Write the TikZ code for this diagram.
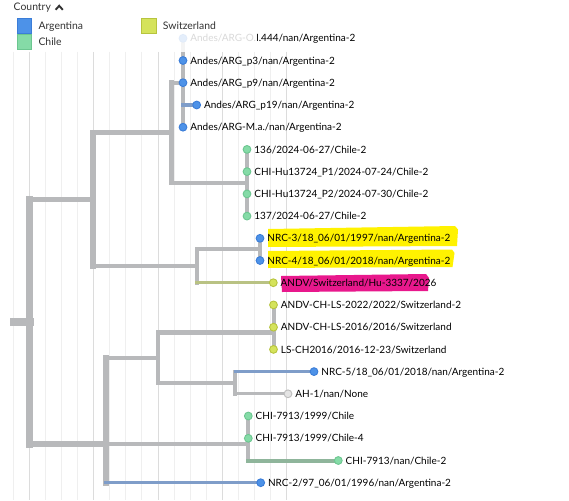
\documentclass[tikz,border=0pt]{standalone}
\usepackage{fontspec}
\setmainfont{Lato}
\usetikzlibrary{calc}
\definecolor{brgray}{HTML}{B8B9BB}
\definecolor{brblue}{HTML}{7F9DC9}
\definecolor{brgreen}{HTML}{8FB59B}
\definecolor{bryel}{HTML}{B9C283}
\definecolor{argfill}{HTML}{4D92E8}
\definecolor{argline}{HTML}{3B7DD8}
\definecolor{chifill}{HTML}{85DBA7}
\definecolor{chiline}{HTML}{6CC690}
\definecolor{swifill}{HTML}{D5E35B}
\definecolor{swiline}{HTML}{B7C43E}
\definecolor{nonefill}{HTML}{E4E4E4}
\definecolor{noneline}{HTML}{BDBDBD}
\definecolor{gridminor}{HTML}{EFEFEF}
\definecolor{gridmajor}{HTML}{DCDCDC}
\definecolor{hlyellow}{HTML}{FFF200}
\definecolor{hlpink}{HTML}{E8188C}
\definecolor{legtext}{HTML}{333333}
\tikzset{
  br/.style={draw=brgray, line cap=rect},
  tipdot/.style={circle, inner sep=0pt, minimum size=7.8pt, line width=0.9pt},
  arg/.style={tipdot, fill=argfill, draw=argline},
  chi/.style={tipdot, fill=chifill, draw=chiline},
  swi/.style={tipdot, fill=swifill, draw=swiline},
  nonec/.style={tipdot, fill=nonefill, draw=noneline},
  lbl/.style={anchor=base west, inner sep=0pt, font=\fontsize{10}{12}\selectfont, text=black},
  legtxt/.style={anchor=base west, inner sep=0pt, font=\fontsize{10.4}{12}\selectfont, text=legtext},
  legbox/.style={rectangle, inner sep=0pt, minimum size=14.5pt, line width=0.9pt},
}
\begin{document}
\begin{tikzpicture}[x=1pt,y=-1pt]
\useasboundingbox (0,0) rectangle (569,500);
\fill[white] (0,0) rectangle (569,500);
% grid
\foreach \k in {0,...,17} {
  \pgfmathsetmacro\gx{13.2+16.09*\k}
  \draw[gridminor, line width=1pt] (\gx,52) -- (\gx,500);
}
\foreach \k in {1,5,9,13,17} {
  \pgfmathsetmacro\gx{13.2+16.09*\k}
  \draw[gridmajor, line width=1pt] (\gx,52) -- (\gx,500);
}
% internal nodes
\coordinate (s0) at (14,321.5);
\coordinate (r)  at (29.5,321.5);
\coordinate (nA) at (93,199.3);
\coordinate (nB) at (171,132.5);
\coordinate (nC) at (183,82.7);
\coordinate (nD) at (247,182.8);
\coordinate (nE) at (197,266);
\coordinate (nF) at (260,249.4);
\coordinate (nG) at (106,443.8);
\coordinate (nH) at (158,358);
\coordinate (nS) at (273.5,332.7);
\coordinate (nI) at (235,382.7);
\coordinate (nJ) at (248.3,443.8);
% tips
\coordinate (t1) at (183,38.3);
\coordinate (t2) at (183,60.5);
\coordinate (t3) at (183,82.7);
\coordinate (t4) at (196.7,105);
\coordinate (t5) at (183,127.2);
\coordinate (t6) at (247,149.4);
\coordinate (t7) at (247,171.6);
\coordinate (t8) at (247,193.9);
\coordinate (t9) at (247,216.1);
\coordinate (t10) at (260,238.3);
\coordinate (t11) at (260,260.5);
\coordinate (t12) at (273.3,282.7);
\coordinate (t13) at (273.5,304.9);
\coordinate (t14) at (273.5,327.2);
\coordinate (t15) at (273.5,349.4);
\coordinate (t16) at (314,371.6);
\coordinate (t17) at (288,393.8);
\coordinate (t18) at (248.3,416);
\coordinate (t19) at (248.3,438.3);
\coordinate (t20) at (338.3,460.5);
\coordinate (t21) at (260.7,482.7);
% vertical segments
\draw[br, line width=7.5pt] (r |- nA) -- (r |- nG);
\draw[br, line width=6pt] (nA |- nB) -- (nA |- nE);
\draw[br, line width=5pt] (nB |- nC) -- (nB |- nD);
\draw[br, line width=4.3pt] (nC |- t1) -- (nC |- t5);
\draw[br, line width=4pt] (nD |- t6) -- (nD |- t9);
\draw[br, line width=4.6pt] (nE |- nF) -- (nE |- t12);
\draw[br, line width=3.5pt] (nF |- t10) -- (nF |- t11);
\draw[br, line width=5.7pt] (nG |- nH) -- (nG |- t21);
\draw[br, line width=4.5pt] (nH |- nS) -- (nH |- nI);
\draw[br, line width=4pt] (nS |- t13) -- (nS |- t15);
\draw[br, line width=4pt] (nI |- t16) -- (nI |- t17);
\draw[br, line width=4.3pt] (nJ |- t18) -- (nJ |- t20);
% horizontal segments
\draw[br, line width=8pt] (s0) -- (r);
\draw[br, line width=5.5pt] (r |- nA) -- (nA);
\draw[br, line width=4.7pt] (nA |- nB) -- (nB);
\draw[br, line width=4pt] (nB |- nC) -- (nC);
\draw[br, draw=brblue, line width=3.3pt] (nC |- t4) -- (t4);
\draw[br, line width=4pt] (nB |- nD) -- (nD);
\draw[br, line width=4.3pt] (nA |- nE) -- (nE);
\draw[br, line width=4pt] (nE |- nF) -- (nF);
\draw[br, draw=bryel, line width=3.3pt] (nE |- t12) -- (t12);
\draw[br, line width=4pt] (nG |- nJ) -- (nJ);
\draw[br, line width=5.7pt] (r |- nG) -- (nG);
\draw[br, line width=4.7pt] (nG |- nH) -- (nH);
\draw[br, line width=4.5pt] (nH |- nS) -- (nS);
\draw[br, line width=4.3pt] (nH |- nI) -- (nI);
\draw[br, draw=brblue, line width=2.8pt] (nI |- t16) -- (t16);
\draw[br, line width=3.3pt] (nI |- t17) -- (t17);
\draw[br, draw=brgreen, line width=4pt] (nJ |- t20) -- (t20);
\draw[br, draw=brblue, line width=3.5pt] (nG |- t21) -- (t21);
% tip dots
\node[arg] (d1) at (t1) {};
\node[arg] (d2) at (t2) {};
\node[arg] (d3) at (t3) {};
\node[arg] (d4) at (t4) {};
\node[arg] (d5) at (t5) {};
\node[chi] (d6) at (t6) {};
\node[chi] (d7) at (t7) {};
\node[chi] (d8) at (t8) {};
\node[chi] (d9) at (t9) {};
\node[arg] (d10) at (t10) {};
\node[arg] (d11) at (t11) {};
\node[swi] (d12) at (t12) {};
\node[swi] (d13) at (t13) {};
\node[swi] (d14) at (t14) {};
\node[swi] (d15) at (t15) {};
\node[arg] (d16) at (t16) {};
\node[nonec] (d17) at (t17) {};
\node[chi] (d18) at (t18) {};
\node[chi] (d19) at (t19) {};
\node[chi] (d20) at (t20) {};
\node[arg] (d21) at (t21) {};
% highlighter marks
\fill[hlyellow] (268,229) -- (455,226) -- (458,229.5) -- (457,246) -- (268,247) -- cycle;
\fill[hlyellow] (268,251) -- (452,249.5) -- (454.5,253) -- (452.5,267) -- (268,268) -- cycle;
\fill[hlpink] (281,276) -- (426,274) -- (429,278) -- (428,291) -- (282,292) -- cycle;
% labels
\node[lbl] (l1) at ($(t1)+(7.2,3.6)$) {Andes/ARG-O.I.444/nan/Argentina-2};
\node[lbl] (l2) at ($(t2)+(7.2,3.6)$) {Andes/ARG\_p3/nan/Argentina-2};
\node[lbl] (l3) at ($(t3)+(7.2,3.6)$) {Andes/ARG\_p9/nan/Argentina-2};
\node[lbl] (l4) at ($(t4)+(7.2,3.6)$) {Andes/ARG\_p19/nan/Argentina-2};
\node[lbl] (l5) at ($(t5)+(7.2,3.6)$) {Andes/ARG-M.a./nan/Argentina-2};
\node[lbl] (l6) at ($(t6)+(7.2,3.6)$) {136/2024-06-27/Chile-2};
\node[lbl] (l7) at ($(t7)+(7.2,3.6)$) {CHI-Hu13724\_P1/2024-07-24/Chile-2};
\node[lbl] (l8) at ($(t8)+(7.2,3.6)$) {CHI-Hu13724\_P2/2024-07-30/Chile-2};
\node[lbl] (l9) at ($(t9)+(7.2,3.6)$) {137/2024-06-27/Chile-2};
\node[lbl] (l10) at ($(t10)+(7.2,3.6)$) {NRC-3/18\_06/01/1997/nan/Argentina-2};
\node[lbl] (l11) at ($(t11)+(7.2,3.6)$) {NRC-4/18\_06/01/2018/nan/Argentina-2};
\node[lbl] (l12) at ($(t12)+(7.2,3.6)$) {ANDV/Switzerland/Hu-3337/2026};
\node[lbl] (l13) at ($(t13)+(7.2,3.6)$) {ANDV-CH-LS-2022/2022/Switzerland-2};
\node[lbl] (l14) at ($(t14)+(7.2,3.6)$) {ANDV-CH-LS-2016/2016/Switzerland};
\node[lbl] (l15) at ($(t15)+(7.2,3.6)$) {LS-CH2016/2016-12-23/Switzerland};
\node[lbl] (l16) at ($(t16)+(7.2,3.6)$) {NRC-5/18\_06/01/2018/nan/Argentina-2};
\node[lbl] (l17) at ($(t17)+(7.2,3.6)$) {AH-1/nan/None};
\node[lbl] (l18) at ($(t18)+(7.2,3.6)$) {CHI-7913/1999/Chile};
\node[lbl] (l19) at ($(t19)+(7.2,3.6)$) {CHI-7913/1999/Chile-4};
\node[lbl] (l20) at ($(t20)+(7.2,3.6)$) {CHI-7913/nan/Chile-2};
\node[lbl] (l21) at ($(t21)+(7.2,3.6)$) {NRC-2/97\_06/01/1996/nan/Argentina-2};
% legend veil
\fill[white, opacity=0.85] (0,0) rectangle (257,52);
% legend
\node[legtxt] (legtitle) at (13.5,11) {Country};
\coordinate (cr1) at (55.6,9.8);
\coordinate (cr2) at (59.2,5.8);
\coordinate (cr3) at (62.8,9.8);
\draw[legtext, line width=1.9pt, line join=miter] (cr1) -- (cr2) -- (cr3);
\node[legbox, fill=argfill, draw=argline] (kArg) at (24.2,26.2) {};
\node[legbox, fill=chifill, draw=chiline] (kChi) at (24.2,42.2) {};
\node[legbox, fill=swifill, draw=swiline] (kSwi) at (148.7,26.2) {};
\node[legtxt] (tArg) at (38.3,29.9) {Argentina};
\node[legtxt] (tChi) at (38.3,45.9) {Chile};
\node[legtxt] (tSwi) at (162.7,29.9) {Switzerland};
\end{tikzpicture}
\end{document}
